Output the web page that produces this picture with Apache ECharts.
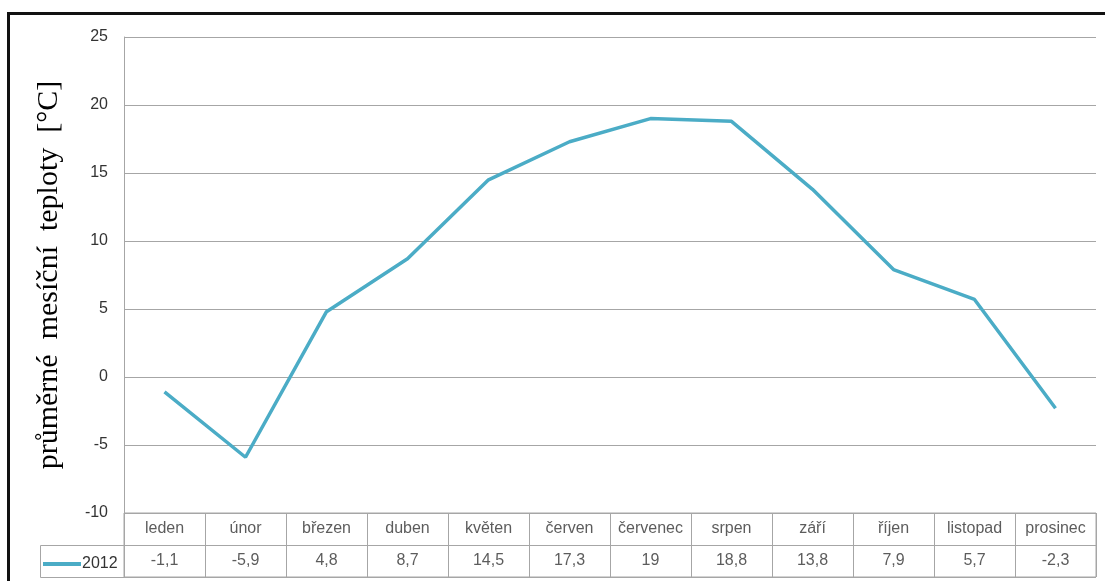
<!DOCTYPE html>
<html>
<head>
<meta charset="utf-8">
<script src="https://cdn.jsdelivr.net/npm/echarts@6/dist/echarts.min.js"></script>
<style>
  html, body { margin: 0; padding: 0; background: #fff; }
  #chart { width: 1105px; height: 581px; }
</style>
</head>
<body>
<div id="chart"></div>
<script>
// Monthly categories, one series (year 2012), and the value-axis ticks
const months = ['leden', 'únor', 'březen', 'duben', 'květen', 'červen', 'červenec', 'srpen', 'září', 'říjen', 'listopad', 'prosinec'];
const seriesName = '2012';
const temps2012 = [-1.1, -5.9, 4.8, 8.7, 14.5, 17.3, 19, 18.8, 13.8, 7.9, 5.7, -2.3];
const yTicks = { min: -10, max: 25, step: 5 };
const yTitle = 'průměrné  mesíční  teploty  [°C]';

const LINE = '#4BACC6';
const GRID = '#a6a6a6';
const TEXT = '#333333';
const SANS = '"Liberation Sans", Arial, sans-serif';

const fmt = v => String(v).replace('.', ',');

// Rows of the data table underneath the plot (upper row: names, lower row: values)
const nameCells = months.map((m, i) => ({ value: [i + 0.5, 1.5], text: m }));
const valueCells = temps2012.map((v, i) => ({ value: [i + 0.5, 0.5], text: fmt(v) }));

const chart = echarts.init(document.getElementById('chart'), null, { renderer: 'canvas' });

const cellLabel = { show: true, position: 'inside', fontFamily: SANS, fontSize: 16, color: TEXT };

chart.setOption({
  backgroundColor: '#ffffff',
  animation: false,
  legend: {
    left: 38, top: 551,
    itemWidth: 38, itemHeight: 4, itemGap: 0,
    icon: 'rect',
    data: [{ name: seriesName }],
    textStyle: { fontFamily: SANS, fontSize: 16, color: TEXT, padding: [0, 0, 0, -4] }
  },
  grid: [
    { left: 124, right: 9, top: 37, bottom: 68 },
    { left: 124, right: 9, top: 513, height: 64, show: true, borderColor: GRID, borderWidth: 1 }
  ],
  xAxis: [
    {
      gridIndex: 0, type: 'category', data: months, boundaryGap: true,
      axisLine: { show: false }, axisTick: { show: false }, axisLabel: { show: false },
      splitLine: { show: false }
    },
    {
      gridIndex: 1, type: 'value', min: 0, max: 12, interval: 1,
      axisLine: { show: false }, axisTick: { show: false }, axisLabel: { show: false },
      splitLine: { show: true, lineStyle: { color: GRID, width: 1 } }
    }
  ],
  yAxis: [
    {
      gridIndex: 0, type: 'value', min: yTicks.min, max: yTicks.max, interval: yTicks.step,
      axisLine: { show: true, lineStyle: { color: GRID, width: 1 } },
      axisTick: { show: false },
      axisLabel: { margin: 16, fontFamily: SANS, fontSize: 16, color: TEXT },
      splitLine: { show: true, lineStyle: { color: GRID, width: 1 } },
      name: yTitle, nameLocation: 'middle', nameGap: 60, nameRotate: 90,
      nameTextStyle: { fontFamily: '"Liberation Serif", "Times New Roman", serif', fontSize: 30, color: '#000' }
    },
    {
      gridIndex: 1, type: 'value', min: 0, max: 2, interval: 1,
      axisLine: { show: false }, axisTick: { show: false }, axisLabel: { show: false },
      splitLine: { show: true, lineStyle: { color: GRID, width: 1 } }
    }
  ],
  graphic: [
    // outer chart frame
    { type: 'rect', silent: true, shape: { x: 8.5, y: 13.5, width: 1200, height: 700 },
      style: { fill: null, stroke: '#111', lineWidth: 3 }, z: 100 },
    // legend-key cell of the data table
    { type: 'polyline', silent: true,
      shape: { points: [[124, 545.5], [40.5, 545.5], [40.5, 577.5], [124, 577.5]] },
      style: { fill: null, stroke: GRID, lineWidth: 1 }, z: 10 }
  ],
  series: [
    {
      name: seriesName, type: 'line', xAxisIndex: 0, yAxisIndex: 0,
      data: temps2012, showSymbol: false, symbol: 'none',
      lineStyle: { color: LINE, width: 3.5 }, itemStyle: { color: LINE }
    },
    {
      type: 'scatter', xAxisIndex: 1, yAxisIndex: 1, symbolSize: 0, silent: true,
      data: nameCells.map(c => ({ value: c.value, label: { formatter: c.text } })),
      label: cellLabel
    },
    {
      type: 'scatter', xAxisIndex: 1, yAxisIndex: 1, symbolSize: 0, silent: true,
      data: valueCells.map(c => ({ value: c.value, label: { formatter: c.text } })),
      label: cellLabel
    }
  ]
});
</script>
</body>
</html>
